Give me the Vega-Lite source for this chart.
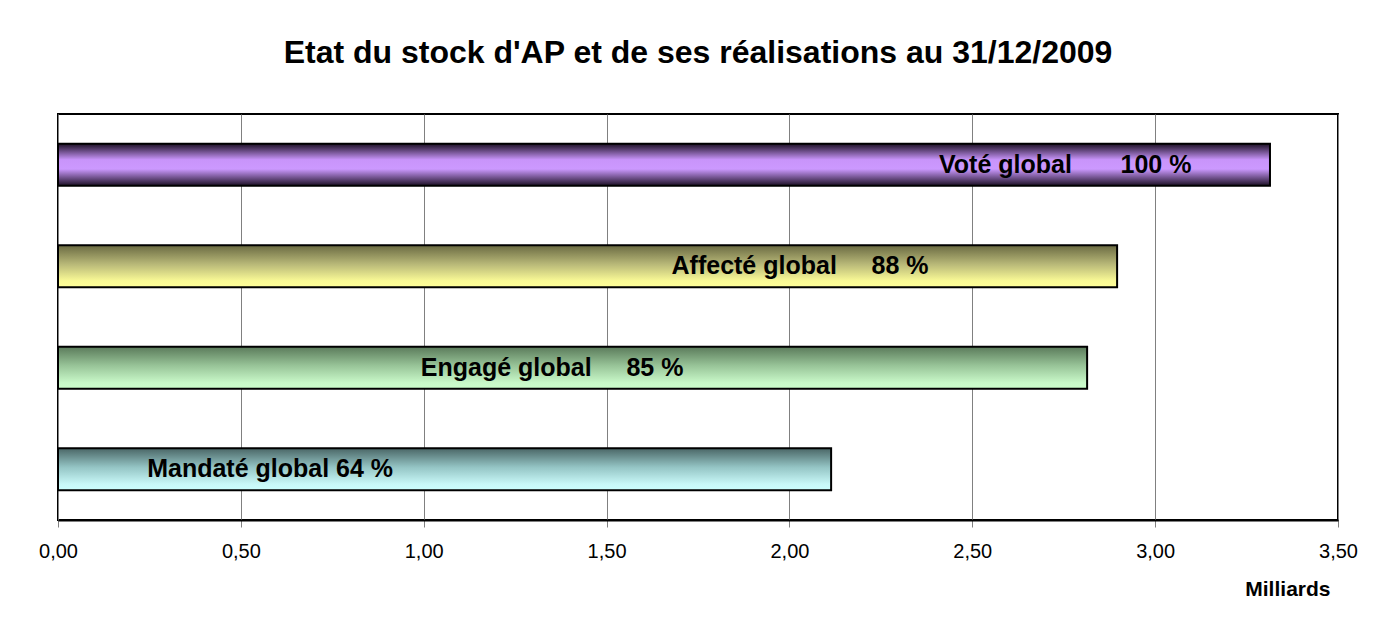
{
  "$schema": "https://vega.github.io/schema/vega-lite/v6.json",
  "width": 1280,
  "height": 406,
  "autosize": {"type": "none"},
  "padding": {"left": 58, "top": 114, "right": 36, "bottom": 110},
  "background": "white",
  "title": {
    "text": "Etat du stock d'AP et de ses réalisations au 31/12/2009",
    "font": "Liberation Sans",
    "fontSize": 32,
    "fontWeight": "bold",
    "color": "black",
    "anchor": "middle",
    "baseline": "alphabetic",
    "offset": 19
  },
  "config": {
    "view": {"stroke": "black", "strokeWidth": 2},
    "font": "Liberation Sans"
  },
  "data": {
    "values": [
      {"poste": "Voté global", "montant": 3.314, "label": "Voté global\u00a0\u00a0\u00a0\u00a0\u00a0\u00a0\u00a0100 %", "labelAt": 2.754},
      {"poste": "Affecté global", "montant": 2.896, "label": "Affecté global\u00a0\u00a0\u00a0\u00a0\u00a088 %", "labelAt": 2.029},
      {"poste": "Engagé global", "montant": 2.814, "label": "Engagé global\u00a0\u00a0\u00a0\u00a0\u00a085 %", "labelAt": 1.351},
      {"poste": "Mandaté global", "montant": 2.114, "label": "Mandaté global 64 %", "labelAt": 0.58}
    ]
  },
  "encoding": {
    "y": {
      "field": "poste",
      "type": "nominal",
      "sort": ["Voté global", "Affecté global", "Engagé global", "Mandaté global"],
      "axis": null,
      "scale": {"paddingInner": 0, "paddingOuter": 0}
    }
  },
  "layer": [
    {
      "transform": [{"filter": "datum.poste === 'Voté global'"}],
      "mark": {
        "type": "bar",
        "height": {"band": 0.414},
        "stroke": "black",
        "strokeWidth": 2,
        "fill": {
          "gradient": "linear", "x1": 0, "y1": 0, "x2": 0, "y2": 1,
          "stops": [
            {"offset": 0, "color": "#1c1024"},
            {"offset": 0.38, "color": "#c894fa"},
            {"offset": 0.6, "color": "#cc99ff"},
            {"offset": 1, "color": "#1c1024"}
          ]
        }
      },
      "encoding": {
        "x": {
          "field": "montant",
          "type": "quantitative",
          "scale": {"domain": [0, 3.5], "nice": false, "zero": true},
          "axis": {
            "values": [0, 0.5, 1, 1.5, 2, 2.5, 3, 3.5],
            "labelExpr": "replace(format(datum.value, '.2f'), '.', ',')",
            "grid": true,
            "gridColor": "#808080",
            "gridWidth": 1,
            "domainColor": "black",
            "domainWidth": 2,
            "tickColor": "#808080",
            "tickWidth": 1,
            "tickSize": 7,
            "labelFont": "Liberation Sans",
            "labelFontSize": 20,
            "labelColor": "black",
            "labelPadding": 14,
            "labelFlush": false,
            "title": "Milliards",
            "titleFont": "Liberation Sans",
            "titleFontSize": 21,
            "titleFontWeight": "bold",
            "titleColor": "black",
            "titleAlign": "right",
            "titleBaseline": "middle",
            "titleX": 1272,
            "titleY": 69
          }
        }
      }
    },
    {
      "transform": [{"filter": "datum.poste === 'Affecté global'"}],
      "mark": {
        "type": "bar",
        "height": {"band": 0.414},
        "stroke": "black",
        "strokeWidth": 2,
        "fill": {
          "gradient": "linear", "x1": 0, "y1": 0, "x2": 0, "y2": 1,
          "stops": [
            {"offset": 0, "color": "#6a6a42"},
            {"offset": 0.45, "color": "#b8b878"},
            {"offset": 0.85, "color": "#fafa96"},
            {"offset": 1, "color": "#ffff99"}
          ]
        }
      },
      "encoding": {"x": {"field": "montant", "type": "quantitative"}}
    },
    {
      "transform": [{"filter": "datum.poste === 'Engagé global'"}],
      "mark": {
        "type": "bar",
        "height": {"band": 0.414},
        "stroke": "black",
        "strokeWidth": 2,
        "fill": {
          "gradient": "linear", "x1": 0, "y1": 0, "x2": 0, "y2": 1,
          "stops": [
            {"offset": 0, "color": "#5a7a5a"},
            {"offset": 0.45, "color": "#98c498"},
            {"offset": 0.85, "color": "#c8f8c8"},
            {"offset": 1, "color": "#ccffcc"}
          ]
        }
      },
      "encoding": {"x": {"field": "montant", "type": "quantitative"}}
    },
    {
      "transform": [{"filter": "datum.poste === 'Mandaté global'"}],
      "mark": {
        "type": "bar",
        "height": {"band": 0.414},
        "stroke": "black",
        "strokeWidth": 2,
        "fill": {
          "gradient": "linear", "x1": 0, "y1": 0, "x2": 0, "y2": 1,
          "stops": [
            {"offset": 0, "color": "#4a6666"},
            {"offset": 0.45, "color": "#94c4c4"},
            {"offset": 0.85, "color": "#c8f8f8"},
            {"offset": 1, "color": "#ccffff"}
          ]
        }
      },
      "encoding": {"x": {"field": "montant", "type": "quantitative"}}
    },
    {
      "mark": {
        "type": "text",
        "font": "Liberation Sans",
        "fontSize": 25,
        "fontWeight": "bold",
        "color": "black",
        "align": "center",
        "baseline": "middle"
      },
      "encoding": {
        "x": {"field": "labelAt", "type": "quantitative"},
        "text": {"field": "label"}
      }
    }
  ]
}
